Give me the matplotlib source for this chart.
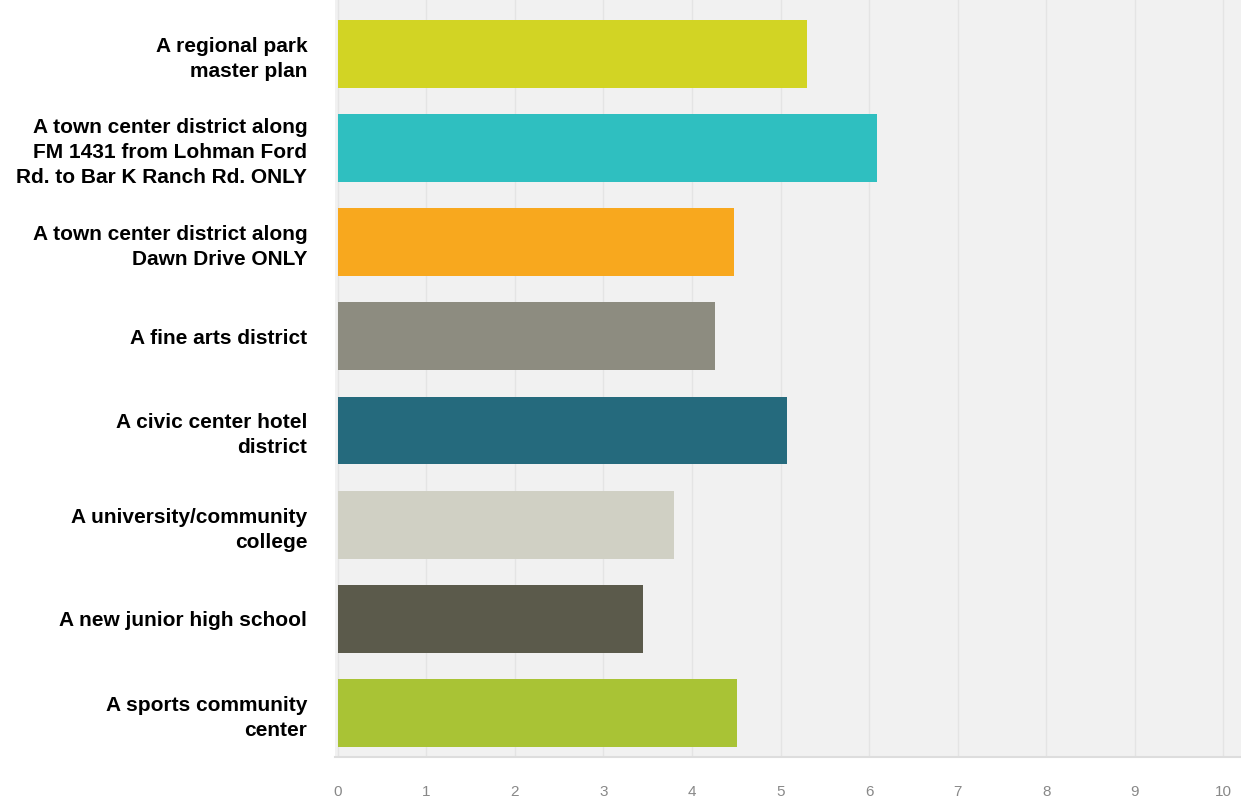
import matplotlib.pyplot as plt

# Survey answers (bar length = average score)
labels = [
    "A regional park\nmaster plan",
    "A town center district along\nFM 1431 from Lohman Ford\nRd. to Bar K Ranch Rd. ONLY",
    "A town center district along\nDawn Drive ONLY",
    "A fine arts district",
    "A civic center hotel\ndistrict",
    "A university/community\ncollege",
    "A new junior high school",
    "A sports community\ncenter",
]
scores = [5.30, 6.09, 4.47, 4.26, 5.07, 3.80, 3.45, 4.51]
colors = ["#d2d424", "#2fbfc0", "#f8a81e", "#8d8c80", "#256a7d",
          "#d0d0c4", "#5b5a4b", "#a9c335"]
ticks = list(range(0, 11))

plt.rcParams["font.family"] = ["Liberation Sans", "DejaVu Sans"]

fig = plt.figure(figsize=(12.41, 8.10), dpi=100)
ax = fig.add_axes([0.27, 0.065, 0.73, 0.935])
ax.set_facecolor("#f1f1f1")

pos = list(range(len(labels)))
ax.barh(pos, scores, height=0.72, color=colors, zorder=3)

ax.set_xlim(-0.03, 10.2)
ax.set_ylim(7.47, -0.57)
ax.set_xticks(ticks)
ax.set_xticklabels([str(t) for t in ticks], color="#888888", fontsize=11)
ax.set_yticks(pos)
ax.set_yticklabels(labels, fontsize=15, fontweight="bold", color="#000000",
                   linespacing=1.4)
ax.tick_params(axis="both", length=0)
ax.tick_params(axis="y", pad=20)
ax.tick_params(axis="x", pad=20)
ax.grid(axis="x", color="#e4e4e4", linewidth=1, zorder=0)
for s in ["top", "right", "left"]:
    ax.spines[s].set_visible(False)
ax.spines["bottom"].set_color("#dddddd")
ax.spines["bottom"].set_linewidth(1.5)

fig.savefig("out.png", dpi=100)
